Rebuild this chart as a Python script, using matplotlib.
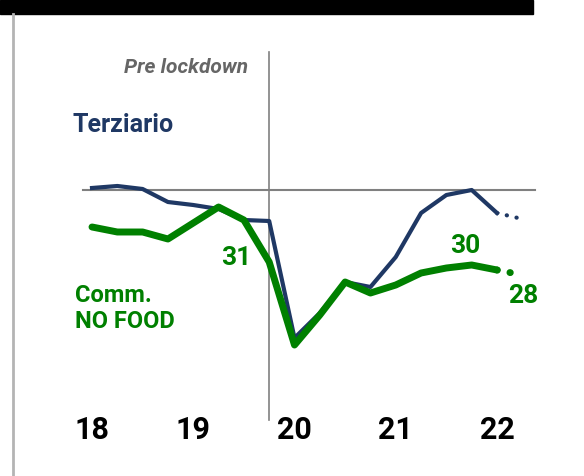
import matplotlib
matplotlib.use("Agg")
import matplotlib.pyplot as plt
from matplotlib.patches import Rectangle
from matplotlib.lines import Line2D

# quarterly index, Q1 2018 .. Q2 2022 (last point = estimate)
quarters = list(range(18))
terziario = [45.4, 45.8, 45.2, 42.6, 42.0, 41.2, 39.0, 38.8, 15.4, 20.4,
             26.6, 25.6, 31.6, 40.4, 44.0, 45.0, 40.4, 39.2]
comm_no_food = [37.6, 36.6, 36.6, 35.2, 38.4, 41.6, 39.0, 30.6, 14.0, 20.0,
                26.6, 24.4, 26.0, 28.4, 29.4, 30.0, 29.0, 28.0]
year_labels = ["18", "19", "20", "21", "22"]
year_pos = [0, 4, 8, 12, 16]
lockdown_q = 7
reference_level = 45

blue = "#1f3864"
green = "#008000"
font = "Roboto"

fig = plt.figure(figsize=(5.84, 4.76), dpi=100)
ax = fig.add_axes([0, 0, 1, 1])
ax.set_xlim(-3.635, 19.437)
ax.set_ylim(-12.2, 83)
ax.axis("off")

# frame decorations
fig.patches.append(Rectangle((0, 1 - 14 / 476), 533 / 584, 14 / 476,
                             transform=fig.transFigure, color="black", zorder=0))
fig.lines.append(Line2D([13 / 584, 13 / 584], [0, 1 - 14 / 476],
                        transform=fig.transFigure, color="#b4b4b4", lw=2))

# reference lines
ax.plot([-0.36, 17.5], [reference_level, reference_level], color="#808080", lw=1.5, zorder=1)
ax.plot([lockdown_q, lockdown_q], [-1, 72.6], color="#808080", lw=1.2, zorder=1)

# series
ax.plot(quarters[:17], terziario[:17], color=blue, lw=3, solid_joinstyle="round", zorder=2)
ax.plot(quarters[16:], terziario[16:], color=blue, lw=3,
        linestyle=(0, (0.05, 2.35)), dash_capstyle="round", zorder=2)
ax.plot(quarters[:17], comm_no_food[:17], color=green, lw=5,
        solid_capstyle="round", solid_joinstyle="round", zorder=3)
ax.plot(quarters[16:], comm_no_food[16:], color=green, lw=5,
        linestyle=(0, (0.05, 1.85)), dash_capstyle="round", zorder=3)

# value labels
for i, dx, dy in [(7, -33, -3), (15, -6, 12), (17, 1, -28)]:
    ax.annotate(f"{comm_no_food[i]:.0f}", (quarters[i], comm_no_food[i]),
                xytext=(dx, dy), textcoords="offset pixels", ha="center", va="baseline",
                color=green, fontsize=19, fontweight="bold", family=font)

# texts
ax.text(6.16, 68.4, "Pre lockdown", ha="right", va="baseline", color="#666666",
        fontsize=15, fontweight="bold", fontstyle="italic", family=font)
ax.text(-0.79, 56.6, "Terziario", ha="left", va="baseline", color=blue,
        fontsize=18, fontweight="bold", family=font)
ax.text(-0.67, 22.6, "Comm.", ha="left", va="baseline", color=green,
        fontsize=17, fontweight="bold", family=font)
ax.text(-0.67, 17.4, "NO FOOD", ha="left", va="baseline", color=green,
        fontsize=17, fontweight="bold", family=font)

for pos, lab in zip(year_pos, year_labels):
    ax.text(pos, -4.8, lab, ha="center", va="baseline", color="black",
            fontsize=22, fontweight="bold", family=font)

fig.savefig("out.png", dpi=100)
